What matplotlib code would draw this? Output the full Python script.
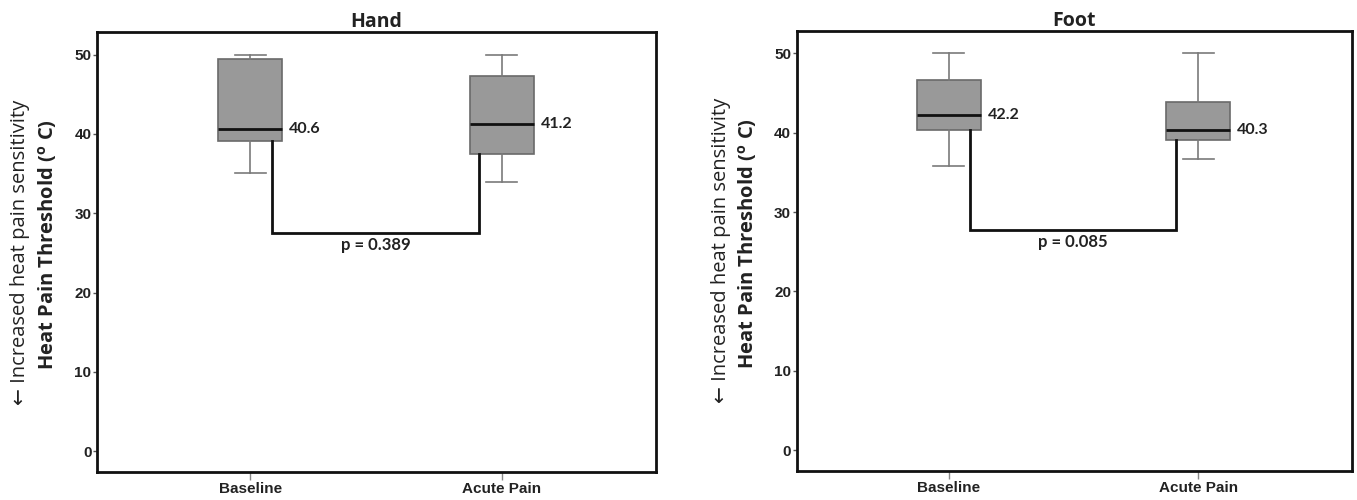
import matplotlib
matplotlib.use('Agg')
import matplotlib.pyplot as plt

# Datos (min, Q1, mediana, Q3, max)
grupos = ['Baseline', 'Acute Pain']
titulos = ['Hand', 'Foot']

hand_min = [35.1, 34.0]
hand_q1 = [39.1, 37.5]
hand_med = [40.6, 41.2]
hand_q3 = [49.5, 47.3]
hand_max = [50.0, 50.0]

foot_min = [35.8, 36.7]
foot_q1 = [40.35, 39.1]
foot_med = [42.2, 40.3]
foot_q3 = [46.7, 43.9]
foot_max = [50.0, 50.0]

p_valores = ['p = 0.389', 'p = 0.085']
y_corchete = [27.55, 27.8]
y_ticks = [0, 10, 20, 30, 40, 50]

fuente = 'Open Sans'
plt.rcParams['mathtext.fontset'] = 'custom'
plt.rcParams['mathtext.rm'] = fuente
plt.rcParams['mathtext.bf'] = fuente + ':bold'

fig = plt.figure(figsize=(13.57, 5.0), dpi=100)
ax1 = fig.add_axes([0.0715, 0.056, 0.412, 0.880])
ax2 = fig.add_axes([0.587, 0.058, 0.409, 0.8806])

datos = [
    (hand_min, hand_q1, hand_med, hand_q3, hand_max),
    (foot_min, foot_q1, foot_med, foot_q3, foot_max),
]

for i, (ax, d) in enumerate(zip([ax1, ax2], datos)):
    vmin, q1, med, q3, vmax = d
    stats = []
    for j in range(len(grupos)):
        stats.append({'whislo': vmin[j], 'q1': q1[j], 'med': med[j],
                      'q3': q3[j], 'whishi': vmax[j], 'label': grupos[j]})
    ax.bxp(stats, positions=[1, 2], widths=0.255, showfliers=False,
           patch_artist=True,
           boxprops=dict(facecolor='#999999', edgecolor='#6a6a6a', linewidth=1.2),
           medianprops=dict(color='#111111', linewidth=2),
           whiskerprops=dict(color='#7a7a7a', linewidth=1.2),
           capprops=dict(color='#7a7a7a', linewidth=1.2),
           capwidths=0.125)

    # Etiquetas de la mediana
    for j in range(len(grupos)):
        ax.text(j + 1 + 0.155, med[j], f'{med[j]:.1f}', ha='left', va='center',
                fontsize=11.5, fontweight='bold', family='Lato', color='#222222')

    # Corchete de comparación
    yc = y_corchete[i]
    xa, xb = 1.085, 1.912
    ax.plot([xa, xa, xb, xb], [q1[0], yc, yc, q1[1]], color='#111111',
            linewidth=2, solid_joinstyle='miter')
    ax.text((xa + xb) / 2, yc - 0.6, p_valores[i], ha='center', va='top',
            fontsize=12, fontweight='bold', family='Lato', color='#222222')

    ax.set_xlim(0.39, 2.615)
    ax.set_ylim(-2.62, 52.85)
    ax.set_yticks(y_ticks)
    ax.set_xticks([1, 2])
    ax.set_xticklabels(grupos)
    for lbl in ax.get_xticklabels() + ax.get_yticklabels():
        lbl.set_fontweight('bold')
        lbl.set_family('Liberation Sans')
        lbl.set_fontsize(11)
        lbl.set_color('#222222')
    ax.tick_params(axis='y', length=3, width=1, color='#555555', pad=1)
    ax.tick_params(axis='x', length=6, width=1, color='#888888', pad=1)
    for s in ax.spines.values():
        s.set_linewidth(2)
        s.set_color('#111111')

    ax.set_title(titulos[i], fontsize=14, fontweight='bold', family=fuente,
                 pad=2, color='#222222')

    # Etiqueta del eje y en dos líneas
    ax.text(-0.137, 0.5, '← Increased heat pain sensitivity', rotation=90,
            transform=ax.transAxes, ha='center', va='center', fontsize=14.5,
            family=[fuente, 'DejaVu Sans'], color='#222222')
    ax.text(-0.088, 0.516, r'Heat Pain Threshold ($^{\mathbf{o}}$ C)', rotation=90,
            transform=ax.transAxes, ha='center', va='center', fontsize=14.5,
            fontweight='bold', family=fuente, color='#222222')

fig.savefig('out.png', dpi=100)
